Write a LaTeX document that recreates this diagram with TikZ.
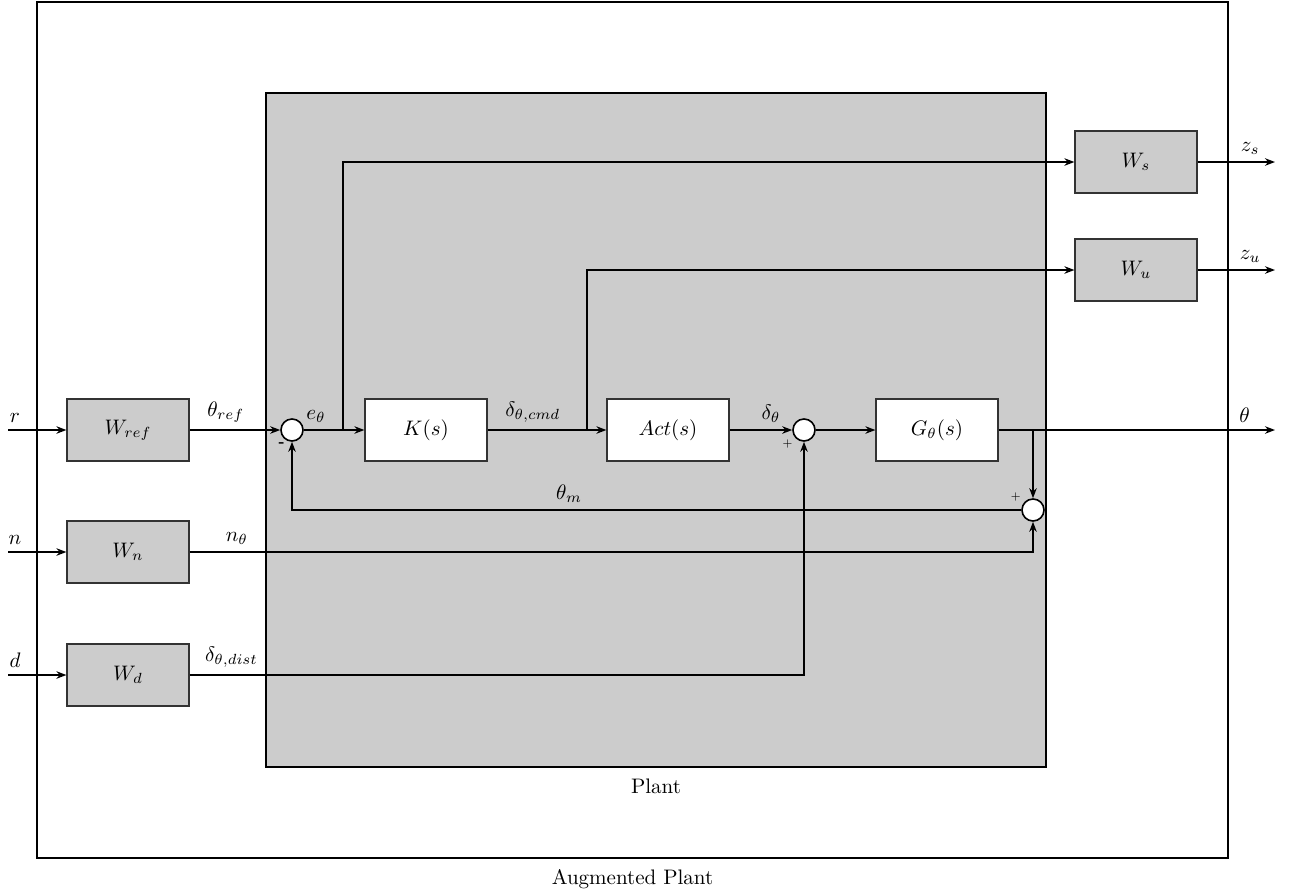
\RequirePackage{fix-cm}
\documentclass[tikz,border=0pt]{standalone}
\usepackage{amsmath}
\usetikzlibrary{positioning,arrows.meta}
\definecolor{plantgray}{HTML}{CCCCCC}

\begin{document}
\begin{tikzpicture}[x=0.5pt, y=-0.5pt, >={Stealth[length=5pt]},
  every node/.style={font=\fontsize{10.5}{12.6}\selectfont},
  block/.style={draw=black!80, line width=0.6pt, minimum width=61pt, minimum height=31pt, inner sep=0pt},
  wblock/.style={block, fill=plantgray},
  kblock/.style={block, fill=white},
  sumnode/.style={circle, draw, thick, fill=white, minimum size=11pt, inner sep=0pt},
  sgn/.style={font=\tiny, inner sep=1pt},
  sig/.style={->, thick}]
 \useasboundingbox (0,0) rectangle (1292,891);
 \node[draw, thick, minimum width=595.5pt, minimum height=428pt, label={[label distance=2pt]below:Augmented Plant}] (aug) at (632.5,430) {};
 \node[draw, thick, fill=plantgray, minimum width=390pt, minimum height=337pt, label={[label distance=2pt]below:Plant}] (plant) at (656,430) {};
 % weights
 \node[wblock] (wref) at (128,430) {$W_{ref}$};
 \node[wblock, below=29.4pt of wref] (wn) {$W_n$};
 \node[wblock, below=29.9pt of wn] (wd) {$W_d$};
 \node[wblock] (ws) at (1136,162) {$W_s$};
 \node[wblock] (wu) at (1136,270) {$W_u$};
 % loop
 \node[sumnode, label={[sgn, font=\scriptsize\bfseries]-115:-}] (sum1) at (292,430) {};
 \node[kblock] (ks) at (426,430) {$K(s)$};
 \node[kblock] (act) at (668,430) {$Act(s)$};
 \node[sumnode, label={[sgn]-140:$+$}] (sum2) at (804,430) {};
 \node[kblock] (gs) at (937,430) {$G_\theta(s)$};
 \node[sumnode, label={[sgn]145:$+$}] (sum3) at (1033,510) {};
 \coordinate (rin) at (8,430);
 \coordinate (nin) at (rin |- wn);
 \coordinate (din) at (rin |- wd);
 \coordinate (ebr) at (343,430);
 \coordinate (ubr) at (587,430);
 \coordinate (gbr) at (1033,430);
 \coordinate (thout) at (1275,430);
 \coordinate (zsout) at (1275,162);
 \coordinate (zuout) at (1275,270);
 \draw[sig] (rin) -- node[pos=0.12, above]{$r$} (wref);
 \draw[sig] (nin) -- node[pos=0.12, above]{$n$} (wn);
 \draw[sig] (din) -- node[pos=0.12, above]{$d$} (wd);
 \draw[sig] (wref) -- node[pos=0.4, above]{$\theta_{ref}$} (sum1);
 \draw[sig] (sum1) -- node[pos=0.2, above]{$e_\theta$} (ks);
 \draw[sig] (ks) -- node[pos=0.38, above]{$\delta_{\theta,cmd}$} (act);
 \draw[sig] (act) -- node[pos=0.66, above]{$\delta_\theta$} (sum2);
 \draw[sig] (sum2) -- (gs);
 \draw[sig] (gs) -- node[pos=0.89, above]{$\theta$} (thout);
 \draw[sig] (ebr) |- (ws);
 \draw[sig] (ubr) |- (wu);
 \draw[sig] (gbr) -- (sum3);
 \draw[sig] (sum3) -| node[pos=0.31, above]{$\theta_m$} (sum1);
 \draw[sig] (wn) -| node[pos=0.028, above]{$n_\theta$} (sum3);
 \draw[sig] (wd) -| node[pos=0.034, above]{$\delta_{\theta,dist}$} (sum2);
 \draw[sig] (ws) -- node[pos=0.68, above]{$z_s$} (zsout);
 \draw[sig] (wu) -- node[pos=0.68, above]{$z_u$} (zuout);
\end{tikzpicture}
\end{document}
